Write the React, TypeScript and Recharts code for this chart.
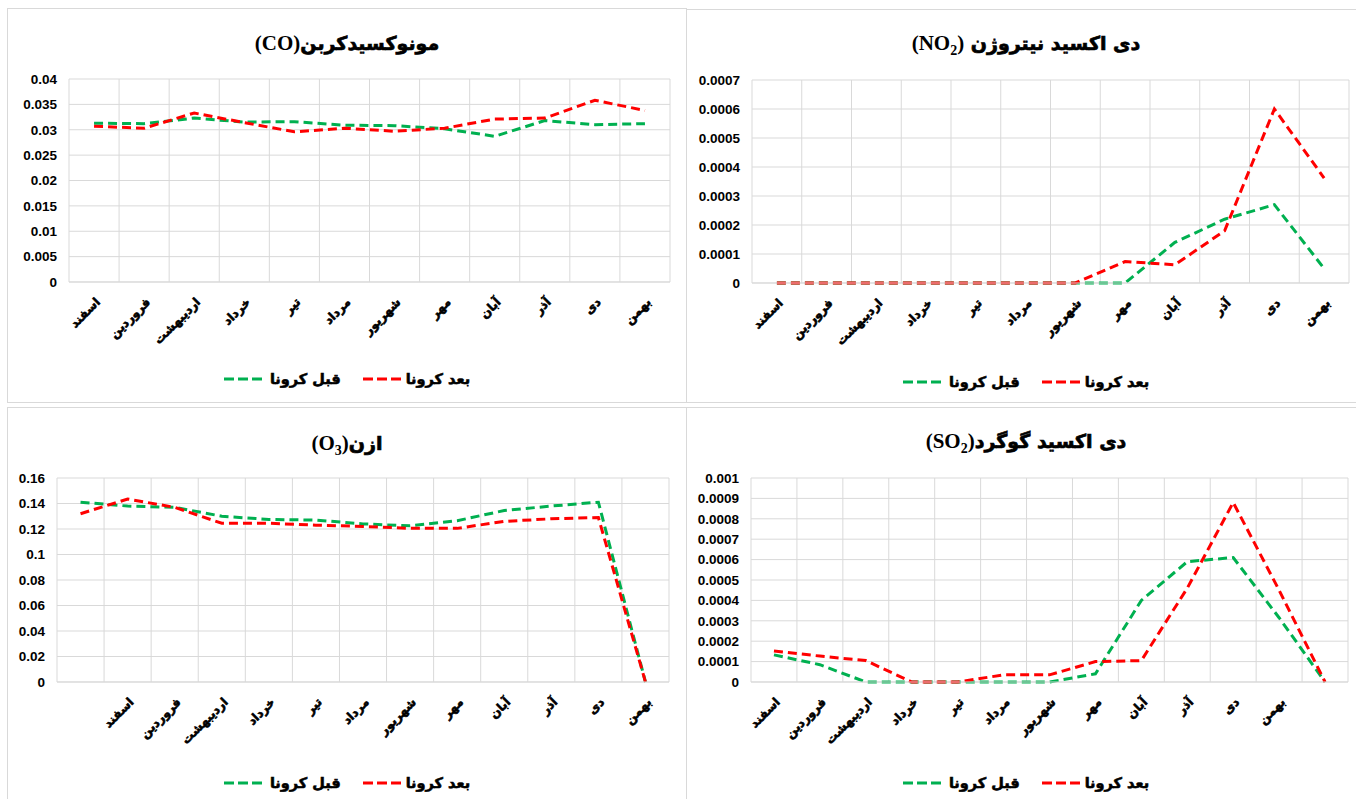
import React from "react";
import { LineChart, Line, XAxis, YAxis, CartesianGrid } from "recharts";

const MONTHS = ["اسفند", "فروردین", "اردیبهشت", "خرداد", "تیر", "مرداد", "شهریور", "مهر", "آبان", "آذر", "دی", "بهمن"];
const BEFORE_NAME = "قبل کرونا";
const AFTER_NAME = "بعد کرونا";

// CO
const coLabels = MONTHS;
const coBefore = [0.0313, 0.0312, 0.0323, 0.0315, 0.0316, 0.0309, 0.0308, 0.0302, 0.0287, 0.0318, 0.031, 0.0312];
const coAfter = [0.0307, 0.0303, 0.0333, 0.0314, 0.0296, 0.0303, 0.0297, 0.0303, 0.0321, 0.0323, 0.0358, 0.0338];
const coTicks = [0, 0.005, 0.01, 0.015, 0.02, 0.025, 0.03, 0.035, 0.04];

// NO2
const no2Labels = MONTHS;
const no2Before = [0, 0, 0, 0, 0, 0, 0, 0, 0.00014, 0.00022, 0.00027, 0.00005];
const no2After = [0, 0, 0, 0, 0, 0, 0, 0.000074, 0.000063, 0.00018, 0.0006, 0.000362];
const no2Ticks = [0, 0.0001, 0.0002, 0.0003, 0.0004, 0.0005, 0.0006, 0.0007];

// O3 (first category has no label)
const o3Labels = ["", ...MONTHS];
const o3Before = [0.141, 0.138, 0.137, 0.13, 0.1275, 0.127, 0.124, 0.1225, 0.1265, 0.1345, 0.138, 0.141, 0];
const o3After = [0.132, 0.1435, 0.137, 0.1245, 0.1245, 0.123, 0.122, 0.1205, 0.1205, 0.126, 0.128, 0.129, 0];
const o3Ticks = [0, 0.02, 0.04, 0.06, 0.08, 0.1, 0.12, 0.14, 0.16];

// SO2 (last category has no label)
const so2Labels = [...MONTHS, ""];
const so2Before = [0.000133, 0.000085, 0, 0, 0, 0, 0, 0.00004, 0.0004, 0.00059, 0.00061, 0.000315, 0];
const so2After = [0.000152, 0.000127, 0.000105, 0, 0, 0.000035, 0.000035, 0.0001, 0.000105, 0.00046, 0.00088, 0.00045, 0];
const so2Ticks = [0, 0.0001, 0.0002, 0.0003, 0.0004, 0.0005, 0.0006, 0.0007, 0.0008, 0.0009, 0.001];

const GREEN = "#00b050";
const RED = "#ff0000";
const GRID = "#d9d9d9";
const FA_FONT = "'DejaVu Sans', sans-serif";

const MonthTick = (props: any) => {
  const { x, y, payload } = props;
  const tx = x + 4;
  const ty = y + 18;
  return (
    <text
      x={tx}
      y={ty}
      transform={`rotate(-45 ${tx} ${ty})`}
      textAnchor="end"
      dominantBaseline="central"
      fontFamily={FA_FONT}
      fontWeight="bold"
      fontSize={12}
      fill="#000"
      stroke="#000"
      strokeWidth={0.6}
    >
      {payload.value}
    </text>
  );
};

function Legend() {
  const dash = (color: string) => (
    <svg width={38} height={6} style={{ display: "block" }}>
      <line x1={0} y1={3} x2={38} y2={3} stroke={color} strokeWidth={3} strokeDasharray="10 4" />
    </svg>
  );
  return (
    <div
      style={{
        position: "absolute",
        left: 0,
        right: 0,
        display: "flex",
        justifyContent: "center",
        alignItems: "center",
        fontFamily: FA_FONT,
        fontWeight: "bold",
        fontSize: 14.5,
        color: "#000",
        WebkitTextStroke: "0.6px #000",
      }}
    >
      {dash(GREEN)}
      <span style={{ marginLeft: 8, marginRight: 22 }}>{BEFORE_NAME}</span>
      {dash(RED)}
      <span style={{ marginLeft: 5 }}>{AFTER_NAME}</span>
    </div>
  );
}

type PanelProps = {
  left: number;
  top: number;
  width: number;
  height: number;
  plotLeft: number;
  plotTop: number;
  plotRight: number;
  plotBottom: number;
  titleTop: number;
  legendTop: number;
  title: React.ReactNode;
  labels: string[];
  before: number[];
  after: number[];
  ticks: number[];
};

function Panel(p: PanelProps) {
  const data = p.labels.map((m, i) => ({ m, before: p.before[i], after: p.after[i] }));
  const n = data.length;
  const axisH = 60;
  return (
    <div
      style={{
        position: "absolute",
        left: p.left,
        top: p.top,
        width: p.width,
        height: p.height,
        border: `1px solid ${GRID}`,
        boxSizing: "border-box",
        background: "#fff",
      }}
    >
      <div
        style={{
          position: "absolute",
          left: 0,
          right: 0,
          top: p.titleTop,
          textAlign: "center",
          fontWeight: "bold",
          fontSize: 19,
          lineHeight: "24px",
          color: "#000",
          zIndex: 1,
        }}
      >
        {p.title}
      </div>
      <LineChart
        width={p.width - 2}
        height={p.height - 2}
        data={data}
        margin={{
          top: p.plotTop,
          right: p.width - p.plotRight,
          left: 0,
          bottom: p.height - p.plotBottom - axisH,
        }}
      >
        <CartesianGrid
          stroke={GRID}
          verticalCoordinatesGenerator={({ offset }: any) =>
            Array.from({ length: n + 1 }, (_, i) => offset.left + (offset.width * i) / n)
          }
        />
        <XAxis
          dataKey="m"
          scale="band"
          interval={0}
          height={axisH}
          tickLine={false}
          tickSize={0}
          tickMargin={0}
          axisLine={{ stroke: GRID }}
          tick={<MonthTick />}
        />
        <YAxis
          type="number"
          width={p.plotLeft}
          domain={[0, p.ticks[p.ticks.length - 1]]}
          ticks={p.ticks}
          interval={0}
          axisLine={false}
          tickLine={false}
          tickSize={0}
          tickMargin={12}
          tickFormatter={(v: number) => String(v)}
          tick={{ fill: "#000", fontSize: 13.5, fontWeight: "bold", fontFamily: "'Liberation Sans', Arial, sans-serif" }}
        />
        <Line
          dataKey="before"
          name={BEFORE_NAME}
          stroke={GREEN}
          strokeWidth={3}
          strokeDasharray="9 5"
          dot={false}
          isAnimationActive={false}
        />
        <Line
          dataKey="after"
          name={AFTER_NAME}
          stroke={RED}
          strokeWidth={3}
          strokeDasharray="9 5"
          dot={false}
          isAnimationActive={false}
        />
      </LineChart>
      <div style={{ position: "absolute", left: 0, right: 0, top: p.legendTop }}>
        <Legend />
      </div>
    </div>
  );
}

const latin = { fontFamily: "'Liberation Serif', 'Times New Roman', serif", fontSize: 21 };
const fa = { fontFamily: FA_FONT, WebkitTextStroke: "0.7px #000" };

export default function App() {
  return (
    <div style={{ position: "absolute", left: 0, top: 0, width: 1356, height: 799, overflow: "hidden", background: "#fff" }}>
      <Panel
        left={7}
        top={8}
        width={680}
        height={395}
        plotLeft={61}
        plotTop={70}
        plotRight={664}
        plotBottom={275}
        titleTop={22}
        legendTop={362}
        title={
          <>
            <span style={latin}>(CO)</span>
            <span style={fa}>مونوکسیدکربن</span>
          </>
        }
        labels={coLabels}
        before={coBefore}
        after={coAfter}
        ticks={coTicks}
      />
      <Panel
        left={686}
        top={9}
        width={680}
        height={394}
        plotLeft={65}
        plotTop={70}
        plotRight={664}
        plotBottom={275}
        titleTop={21}
        legendTop={364}
        title={
          <>
            <span style={latin}>
              (NO<sub style={{ fontSize: 14 }}>2</sub>)
            </span>
            <span style={fa}> دی اکسید نیتروژن</span>
          </>
        }
        labels={no2Labels}
        before={no2Before}
        after={no2After}
        ticks={no2Ticks}
      />
      <Panel
        left={7}
        top={407}
        width={680}
        height={395}
        plotLeft={49}
        plotTop={70}
        plotRight={663}
        plotBottom={276}
        titleTop={23}
        legendTop={367}
        title={
          <>
            <span style={latin}>
              (O<sub style={{ fontSize: 14 }}>3</sub>)
            </span>
            <span style={fa}>ازن</span>
          </>
        }
        labels={o3Labels}
        before={o3Before}
        after={o3After}
        ticks={o3Ticks}
      />
      <Panel
        left={686}
        top={407}
        width={680}
        height={395}
        plotLeft={64}
        plotTop={70}
        plotRight={663}
        plotBottom={276}
        titleTop={21}
        legendTop={367}
        title={
          <>
            <span style={latin}>
              (SO<sub style={{ fontSize: 14 }}>2</sub>)
            </span>
            <span style={fa}>دی اکسید گوگرد</span>
          </>
        }
        labels={so2Labels}
        before={so2Before}
        after={so2After}
        ticks={so2Ticks}
      />
    </div>
  );
}
